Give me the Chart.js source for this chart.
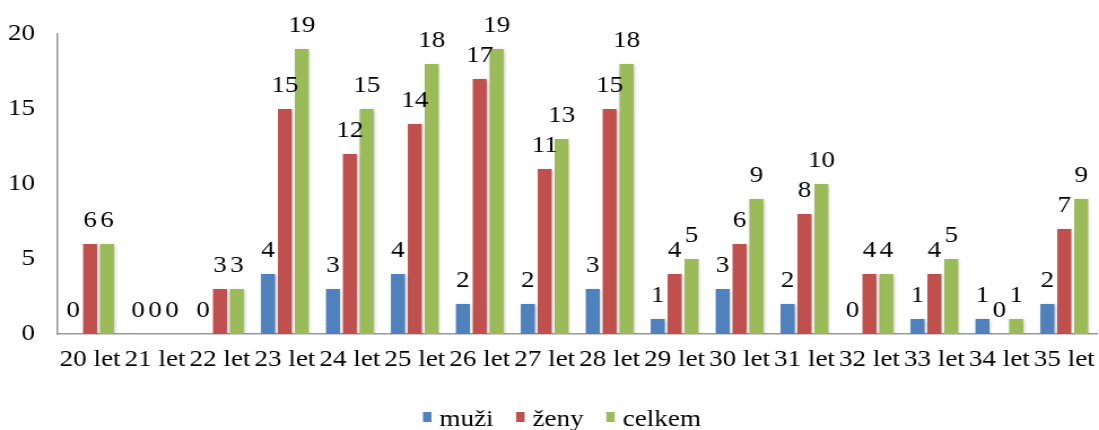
<!DOCTYPE html>
<html>
<head>
<meta charset="utf-8">
<script src="https://cdn.jsdelivr.net/npm/chart.js@4.4.0/dist/chart.umd.min.js"></script>
<style>
html,body{margin:0;padding:0;background:#fff;overflow:hidden;}
#outer{width:1099px;height:430px;overflow:hidden;}
#wrap{width:973px;height:430px;position:relative;transform:scaleX(1.1295);transform-origin:0 0;}
#c{display:block;width:973px;height:430px;}
</style>
</head>
<body>
<div id="outer"><div id="wrap"><canvas id="c" width="973" height="430"></canvas></div></div>
<script>
const categories = ["20 let","21 let","22 let","23 let","24 let","25 let","26 let","27 let","28 let","29 let","30 let","31 let","32 let","33 let","34 let","35 let"];
const muzi   = [0,0,0,4,3,4,2,2,3,1,3,2,0,1,1,2];
const zeny   = [6,0,3,15,12,14,17,11,15,4,6,8,4,4,0,7];
const celkem = [6,0,3,19,15,18,19,13,18,5,9,10,4,5,1,9];
const seriesNames = ["muži","ženy","celkem"];
const seriesColors = ['#4F81BD','#C0504D','#9BBB59'];
const yTicks = [0,5,10,15,20];

const FONT = "'Liberation Serif', 'Times New Roman', serif";

const shadowPlugin = {
  id: 'shadow',
  beforeDatasetsDraw(chart){
    const ctx = chart.ctx;
    ctx.save();
    ctx.shadowColor = 'rgba(0,0,0,0.22)';
    ctx.shadowBlur = 3;
    ctx.shadowOffsetX = 1;
    ctx.shadowOffsetY = 1;
  },
  afterDatasetsDraw(chart){
    chart.ctx.restore();
  }
};

const labelPlugin = {
  id: 'barLabels',
  afterDraw(chart){
    const ctx = chart.ctx;
    ctx.save();
    ctx.font = "24px " + FONT;
    ctx.fillStyle = '#000';
    ctx.textAlign = 'center';
    ctx.textBaseline = 'alphabetic';
    chart.data.datasets.forEach((ds, di) => {
      const meta = chart.getDatasetMeta(di);
      meta.data.forEach((bar, i) => {
        ctx.fillText(String(ds.data[i]), bar.x, bar.y - 17);
      });
    });

    // legend
    const boxW = 7.5, boxH = 10, gap = 7, spacing = 20;
    const items = chart.data.datasets.map(ds => ({
      text: ds.label, color: ds.backgroundColor, w: boxW + gap + ctx.measureText(ds.label).width
    }));
    const total = items.reduce((s, it) => s + it.w, 0) + spacing * (items.length - 1);
    let x = chart.width / 2 + 11 - total / 2;
    const baseY = 426;
    ctx.textAlign = 'left';
    items.forEach(it => {
      ctx.fillStyle = it.color;
      ctx.fillRect(x, baseY - 14, boxW, boxH);
      ctx.fillStyle = '#000';
      ctx.fillText(it.text, x + boxW + gap, baseY);
      x += it.w + spacing;
    });
    ctx.restore();
  }
};

new Chart(document.getElementById('c'), {
  type: 'bar',
  data: {
    labels: categories,
    datasets: [
      {label: seriesNames[0], data: muzi,   backgroundColor: seriesColors[0]},
      {label: seriesNames[1], data: zeny,   backgroundColor: seriesColors[1]},
      {label: seriesNames[2], data: celkem, backgroundColor: seriesColors[2]}
    ]
  },
  options: {
    responsive: false,
    maintainAspectRatio: false,
    animation: false,
    devicePixelRatio: 1,
    layout: {padding: {left: 7, right: 2, top: 34, bottom: 39}},
    datasets: {bar: {categoryPercentage: 0.78, barPercentage: 0.83}},
    plugins: {
      legend: {display: false},
      tooltip: {enabled: false}
    },
    scales: {
      x: {
        grid: {display: false, drawTicks: false},
        border: {display: true, color: '#999', width: 1.5},
        ticks: {font: {family: FONT, size: 24}, color: '#000', padding: 11, maxRotation: 0, autoSkip: false},
        afterFit(axis){ axis.height = 57; axis.paddingLeft = 0; axis.paddingRight = 0; }
      },
      y: {
        min: 0, max: 20,
        grid: {display: false, drawTicks: false},
        border: {display: true, color: '#999', width: 1.5},
        afterBuildTicks(axis){ axis.ticks = yTicks.map(v => ({value: v})); },
        ticks: {font: {family: FONT, size: 24}, color: '#000', padding: 20},
        afterFit(axis){ axis.width = 44; axis.paddingTop = 0; axis.paddingBottom = 0; }
      }
    }
  },
  plugins: [shadowPlugin, labelPlugin]
});
</script>
</body>
</html>
